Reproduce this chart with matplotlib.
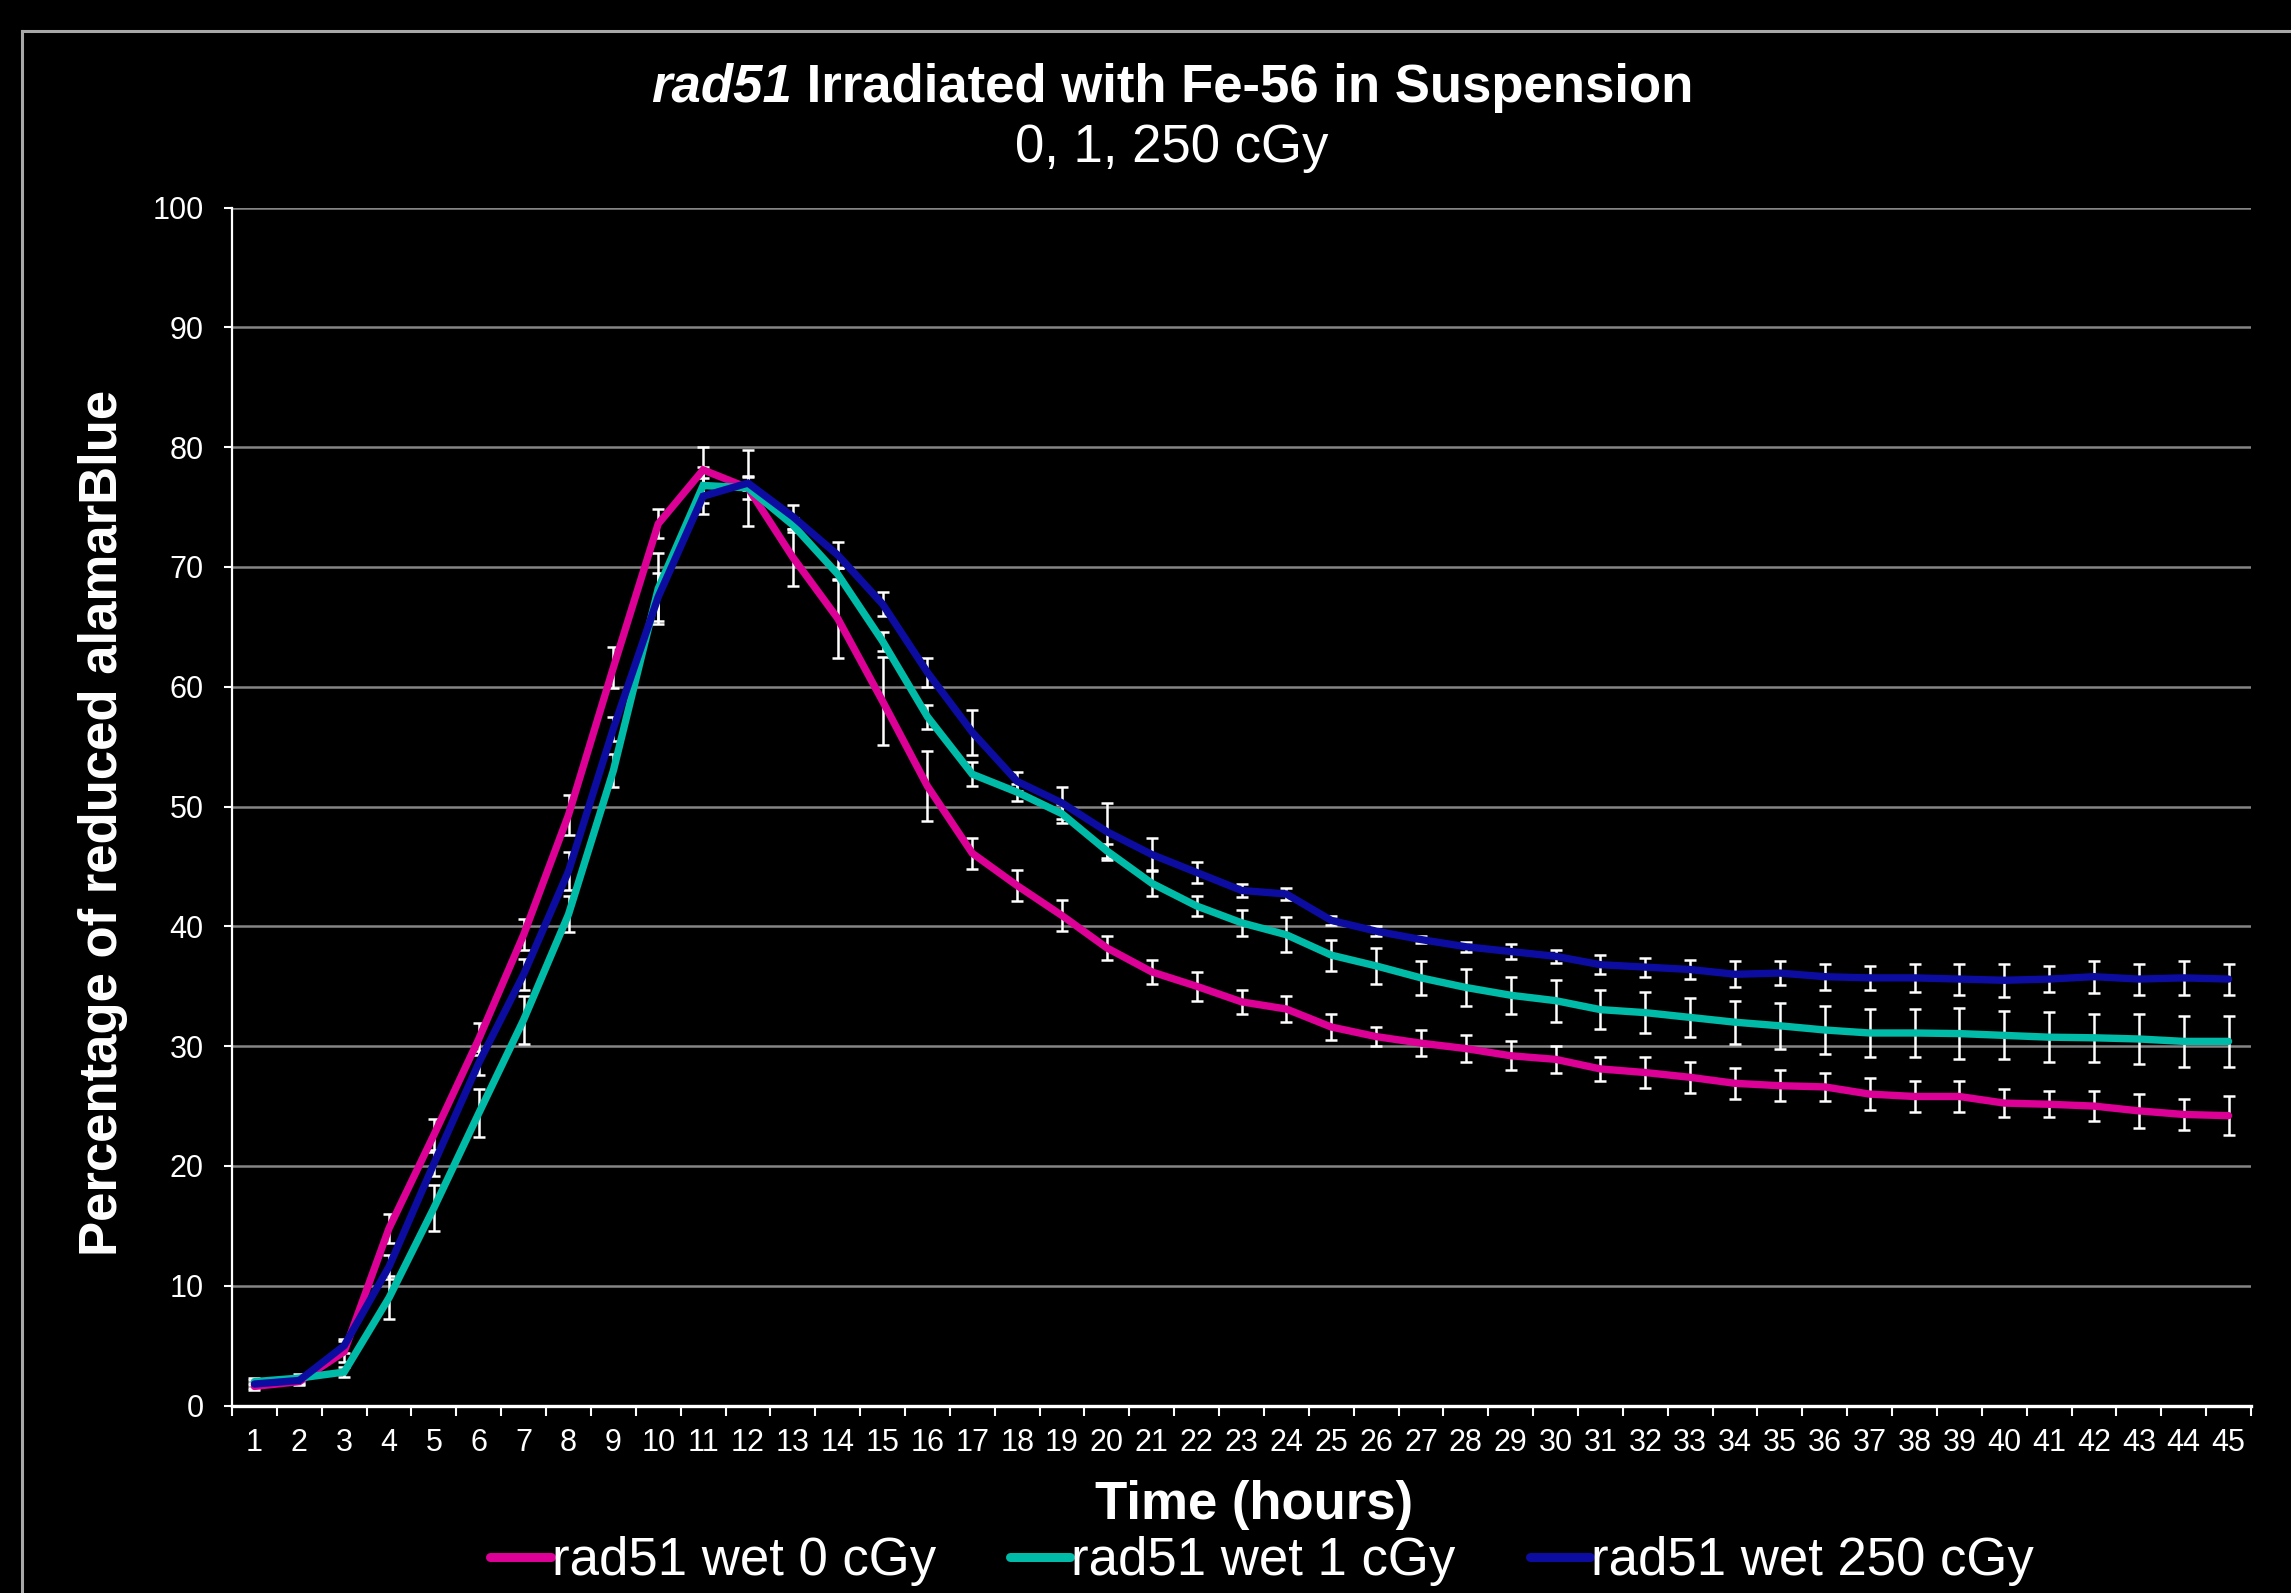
import matplotlib
matplotlib.use("Agg")
import matplotlib.pyplot as plt
from matplotlib.lines import Line2D
import numpy as np

plt.rcParams['font.family'] = ['Liberation Sans', 'DejaVu Sans']

hours = list(range(1, 46))
hour_labels = [str(h) for h in hours]

series_names = ["rad51 wet 0 cGy", "rad51 wet 1 cGy", "rad51 wet 250 cGy"]

wet_0 = [1.6, 2.0, 4.5, 14.8, 22.6, 30.6, 39.3, 49.3, 61.6, 73.6,
         78.1, 76.6, 70.8, 65.7, 58.8, 51.7, 46.1, 43.4, 40.9, 38.2,
         36.2, 35.0, 33.7, 33.1, 31.6, 30.8, 30.25, 29.8, 29.2, 28.9,
         28.1, 27.8, 27.4, 26.9, 26.7, 26.6, 26.0, 25.8, 25.8, 25.25,
         25.15, 25.0, 24.6, 24.3, 24.2]
err_0 = [0.3, 0.3, 0.9, 1.2, 1.3, 1.3, 1.3, 1.7, 1.7, 1.2,
         1.9, 0.9, 2.4, 3.3, 3.7, 2.9, 1.3, 1.3, 1.3, 1.0,
         1.0, 1.2, 1.0, 1.1, 1.1, 0.8, 1.1, 1.1, 1.2, 1.1,
         1.0, 1.3, 1.3, 1.3, 1.3, 1.2, 1.35, 1.3, 1.3, 1.2,
         1.1, 1.25, 1.4, 1.3, 1.65]

wet_1 = [2.0, 2.3, 2.8, 9.0, 16.5, 24.4, 32.2, 41.0, 53.0, 68.2,
         76.8, 76.6, 73.5, 69.4, 63.8, 57.5, 52.7, 51.2, 49.4, 46.3,
         43.6, 41.7, 40.3, 39.3, 37.6, 36.7, 35.7, 34.9, 34.25, 33.8,
         33.05, 32.8, 32.4, 32.0, 31.7, 31.35, 31.1, 31.1, 31.05, 30.9,
         30.75, 30.7, 30.6, 30.4, 30.4]
err_1 = [0.3, 0.3, 0.4, 1.8, 1.9, 2.0, 2.0, 1.5, 1.4, 3.0,
         1.5, 3.2, 0.6, 0.5, 0.8, 1.0, 1.0, 0.7, 0.8, 0.6,
         1.1, 0.8, 1.1, 1.45, 1.3, 1.5, 1.45, 1.55, 1.55, 1.75,
         1.65, 1.7, 1.65, 1.8, 1.9, 2.0, 2.0, 2.0, 2.1, 2.0,
         2.1, 2.0, 2.1, 2.1, 2.1]

wet_250 = [1.8, 2.1, 5.0, 11.6, 20.2, 28.6, 36.0, 44.6, 56.5, 67.5,
           75.9, 77.0, 74.2, 71.0, 66.9, 61.2, 56.2, 52.1, 50.3, 47.9,
           46.0, 44.5, 43.0, 42.7, 40.5, 39.6, 38.9, 38.3, 37.9, 37.5,
           36.8, 36.6, 36.4, 36.0, 36.1, 35.8, 35.7, 35.7, 35.6, 35.5,
           35.6, 35.8, 35.6, 35.7, 35.6]
err_250 = [0.3, 0.3, 0.6, 1.0, 1.0, 1.0, 1.3, 1.6, 1.0, 2.0,
           1.5, 0.6, 1.0, 1.1, 1.0, 1.2, 1.9, 0.8, 1.3, 2.4,
           1.4, 0.9, 0.55, 0.5, 0.4, 0.4, 0.3, 0.4, 0.6, 0.55,
           0.8, 0.8, 0.8, 1.1, 1.0, 1.1, 1.0, 1.2, 1.3, 1.4,
           1.1, 1.35, 1.3, 1.4, 1.3]

colors = ['#DC0096', '#00BBA7', '#0C0CA0']

W, H = 2291, 1593
fig = plt.figure(figsize=(W / 100, H / 100), dpi=100, facecolor='black')

# chart-area frame (left and top edges visible)
fx, fy = 22 / W, 1 - 31 / H
fig.add_artist(Line2D([fx, fx], [0, fy], transform=fig.transFigure, color='#a8a8a8', lw=2.2))
fig.add_artist(Line2D([fx, 1], [fy, fy], transform=fig.transFigure, color='#a8a8a8', lw=2.2))

ax_l, ax_r = 232 / W, 2251 / W
ax_b, ax_t = 1 - 1405.6 / H, 1 - 207.5 / H
ax = fig.add_axes([ax_l, ax_b, ax_r - ax_l, ax_t - ax_b])
ax.set_facecolor('black')

x = np.array(hours)
data = [(wet_0, err_0), (wet_1, err_1), (wet_250, err_250)]
for (vals, errs), c, name in zip(data, colors, series_names):
    ax.errorbar(x, vals, yerr=errs, fmt='none', ecolor='white', elinewidth=1.8,
                capsize=4.5, capthick=1.8, zorder=2)
for (vals, errs), c, name in zip(data, colors, series_names):
    ax.plot(x, vals, color=c, lw=5.3, label=name, zorder=3,
            solid_joinstyle='miter', solid_capstyle='round')

ax.set_xlim(0.5, 45.5)
ax.set_ylim(0, 100)
ax.set_yticks(range(0, 101, 10))
ax.set_yticklabels([str(v) for v in range(0, 101, 10)])
ax.yaxis.grid(True, color='#858585', lw=1.8, zorder=0)
ax.set_axisbelow(True)

ax.set_xticks(np.arange(0.5, 46, 1.0))
ax.set_xticklabels([])
ax.set_xticks(x, minor=True)
ax.set_xticklabels(hour_labels, minor=True)
ax.tick_params(axis='x', which='major', direction='out', length=7, width=1.5, color='white')
ax.tick_params(axis='x', which='minor', length=0, pad=16, labelsize=22, labelcolor='white')
ax.tick_params(axis='y', which='major', direction='out', length=5.5, width=1.5,
               color='white', pad=15, labelsize=22, labelcolor='white')

for s in ['top', 'right']:
    ax.spines[s].set_visible(False)
ax.spines['left'].set_color('white')
ax.spines['left'].set_linewidth(1.6)
ax.spines['bottom'].set_color('white')
ax.spines['bottom'].set_linewidth(2.4)
ax.spines['bottom'].set_zorder(4)

# title with italic gene name
cx = 1172 / W
fig.canvas.draw()
renderer = fig.canvas.get_renderer()
t1 = fig.text(0, 1 - 102 / H, 'rad51', fontsize=38, fontweight='bold', fontstyle='italic',
              color='white', ha='left', va='baseline')
t2 = fig.text(0, 1 - 102 / H, ' Irradiated with Fe-56 in Suspension', fontsize=38,
              fontweight='bold', color='white', ha='left', va='baseline')
w1 = t1.get_window_extent(renderer).width
w2 = t2.get_window_extent(renderer).width
start = cx * W - (w1 + w2) / 2
t1.set_x(start / W)
t2.set_x((start + w1) / W)

fig.text(cx, 1 - 162 / H, '0, 1, 250 cGy', fontsize=38, color='white', ha='center', va='baseline')

fig.text(1254 / W, 1 - 1519 / H, 'Time (hours)', fontsize=38, fontweight='bold',
         color='white', ha='center', va='baseline')
fig.text(103 / W, 1 - 823 / H, 'Percentage of reduced alamarBlue', fontsize=38,
         fontweight='bold', color='white', ha='center', va='center', rotation=90)

leg = fig.legend(loc='center', bbox_to_anchor=(1262 / W, 0.020), ncol=3, frameon=False,
                 fontsize=38, handlelength=1.15, handletextpad=0.02, columnspacing=1.4,
                 borderpad=0, borderaxespad=0)
for t in leg.get_texts():
    t.set_color('white')
for h in leg.legend_handles:
    h.set_linewidth(6.5)

fig.savefig('out.png', dpi=100, facecolor='black')
